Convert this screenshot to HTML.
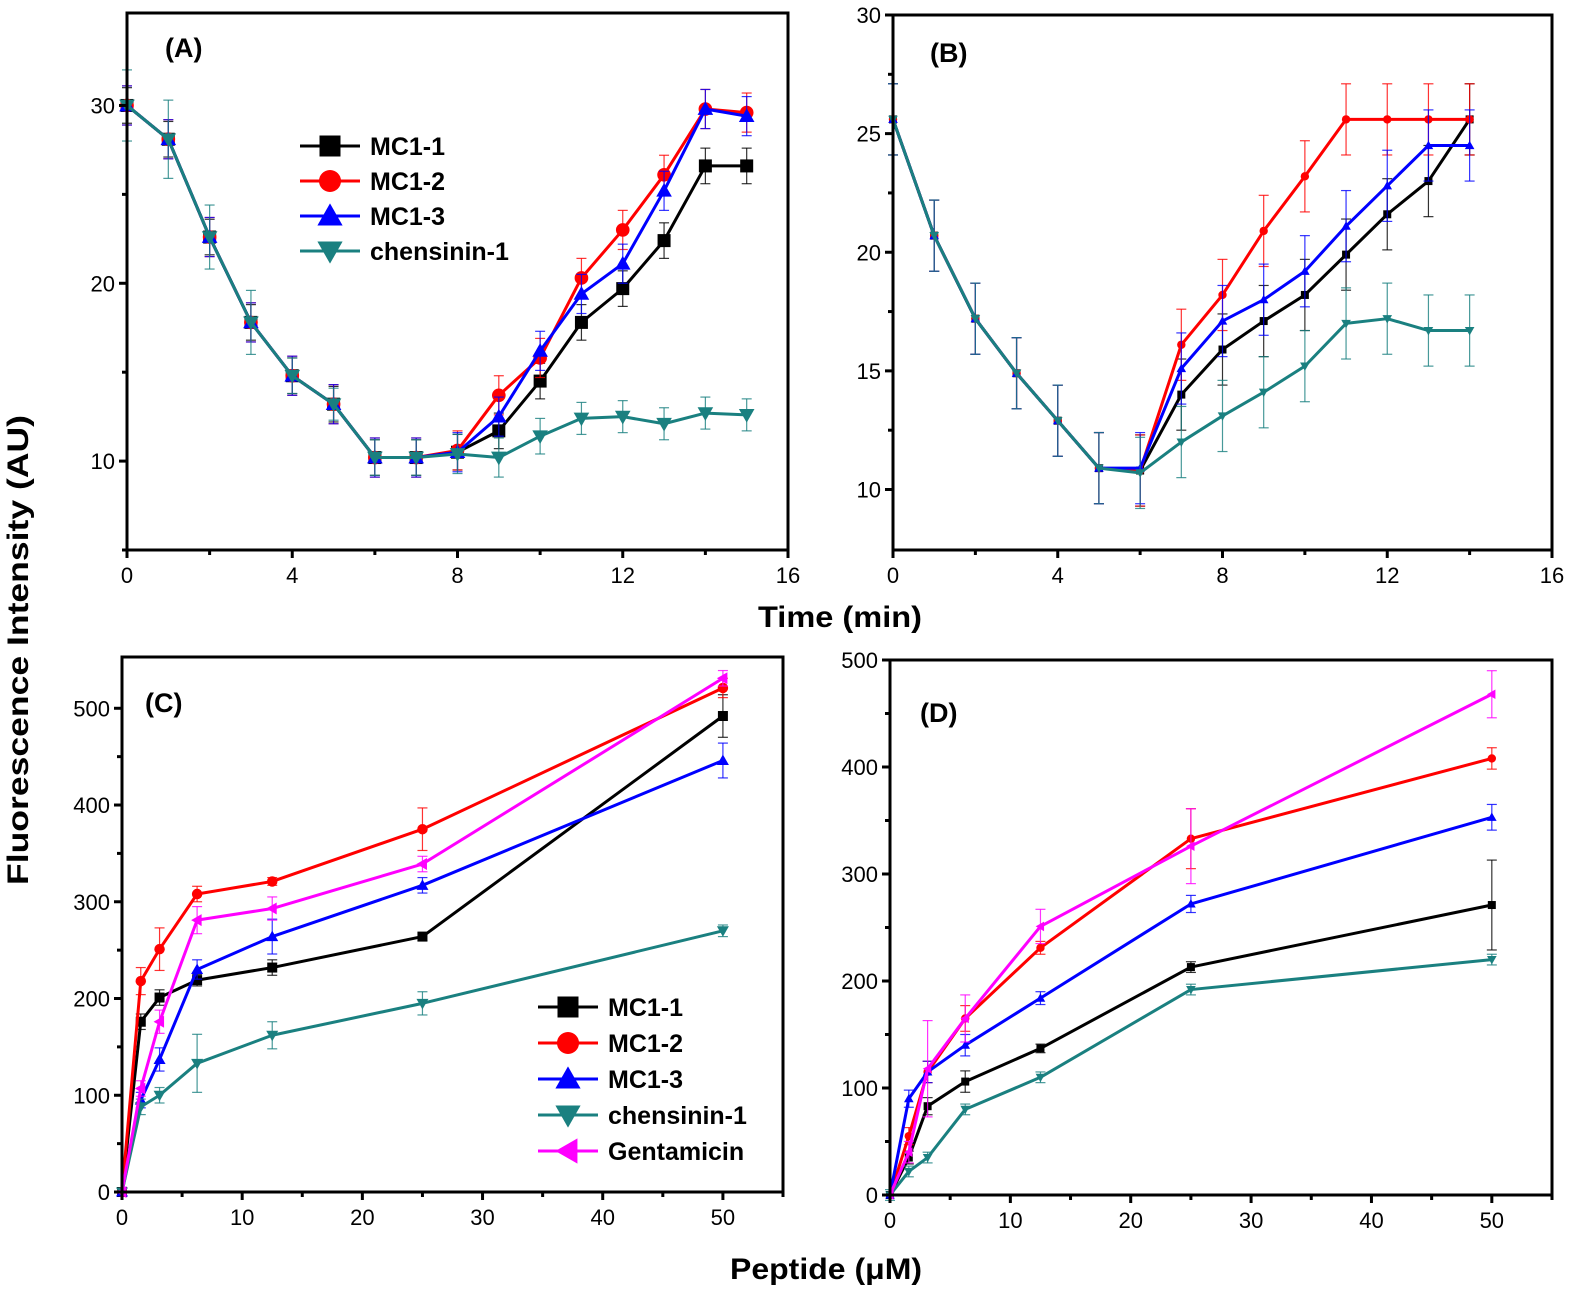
<!DOCTYPE html>
<html><head><meta charset="utf-8"><style>
body{margin:0;background:#fff}
svg{display:block}
text{font-family:"Liberation Sans",Arial,sans-serif}
</style></head><body>
<svg id="s" width="1575" height="1294" viewBox="0 0 1575 1294" xmlns="http://www.w3.org/2000/svg">
<text x="28" y="650" font-size="30" font-weight="bold" text-anchor="middle" textLength="470" lengthAdjust="spacingAndGlyphs" transform="rotate(-90 28 650)">Fluorescence Intensity (AU)</text>
<text x="840" y="627" font-size="30" font-weight="bold" text-anchor="middle" textLength="164" lengthAdjust="spacingAndGlyphs">Time (min)</text>
<text x="826" y="1279" font-size="30" font-weight="bold" text-anchor="middle" textLength="192" lengthAdjust="spacingAndGlyphs">Peptide (μM)</text>
</svg>
<script>
const S=document.getElementById('s');
function el(t,a,txt){const e=document.createElementNS('http://www.w3.org/2000/svg',t);for(const k in a)e.setAttribute(k,a[k]);if(txt!==undefined)e.textContent=txt;S.appendChild(e);return e;}
const COL={k:'#000',r:'#f00',b:'#00f',g:'#1a8080',m:'#f0f'};
function marker(type,x,y,sz,c){
  const h=sz/2;
  if(type==='sq')el('rect',{x:x-h,y:y-h,width:sz,height:sz,fill:c});
  else if(type==='ci')el('circle',{cx:x,cy:y,r:h*1.05,fill:c});
  else if(type==='up')el('polygon',{points:`${x},${y-h*1.2} ${x-h*1.2},${y+h*0.9} ${x+h*1.2},${y+h*0.9}`,fill:c});
  else if(type==='dn')el('polygon',{points:`${x},${y+h*1.2} ${x-h*1.2},${y-h*0.9} ${x+h*1.2},${y-h*0.9}`,fill:c});
  else if(type==='lf')el('polygon',{points:`${x-h*1.2},${y} ${x+h*0.9},${y-h*1.2} ${x+h*0.9},${y+h*1.2}`,fill:c});
}
function panel(p){
  const X=v=>p.x0+(v-p.xmin)/(p.xmax-p.xmin)*(p.x1-p.x0);
  const Y=v=>p.y1-(v-p.ymin)/(p.ymax-p.ymin)*(p.y1-p.y0);
  for(const s of p.series){
    const pts=s.d.map((v,i)=>[X(p.xs[i]),Y(v)]);
    s.d.forEach((v,i)=>{const e=(s.e&&s.e[i]!==undefined)?s.e[i]:s.ed; if(!e)return;
      const x=X(p.xs[i]),a=Y(v+e),b=Y(v-e);
      el('line',{x1:x,y1:a,x2:x,y2:b,stroke:s.c,'stroke-width':1.2,opacity:.8});
      el('line',{x1:x-5,y1:a,x2:x+5,y2:a,stroke:s.c,'stroke-width':1.2,opacity:.8});
      el('line',{x1:x-5,y1:b,x2:x+5,y2:b,stroke:s.c,'stroke-width':1.2,opacity:.8});});
    el('polyline',{points:pts.map(q=>q.join(',')).join(' '),fill:'none',stroke:s.c,'stroke-width':3,'stroke-linejoin':'round'});
    pts.forEach(q=>marker(s.m,q[0],q[1],p.ms,s.c));
  }
  el('rect',{x:p.x0,y:p.y0,width:p.x1-p.x0,height:p.y1-p.y0,fill:'none',stroke:'#000','stroke-width':3});
  for(const t of p.xt){const x=X(t);el('line',{x1:x,y1:p.y1,x2:x,y2:p.y1+8,stroke:'#000','stroke-width':3});el('text',{x:x,y:p.y1+33,'font-size':22,'text-anchor':'middle'},String(t));}
  for(const t of p.xm){const x=X(t);el('line',{x1:x,y1:p.y1,x2:x,y2:p.y1+5,stroke:'#000','stroke-width':3});}
  for(const t of p.yt){const y=Y(t);el('line',{x1:p.x0-8,y1:y,x2:p.x0,y2:y,stroke:'#000','stroke-width':3});el('text',{x:p.x0-12,y:y+8,'font-size':22,'text-anchor':'end'},String(t));}
  for(const t of p.ym){const y=Y(t);el('line',{x1:p.x0-5,y1:y,x2:p.x0,y2:y,stroke:'#000','stroke-width':3});}
  el('text',{x:p.lx,y:p.ly,'font-size':27,'font-weight':'bold'},p.label);
  if(p.leg){let y=p.leg.y;for(const s of p.series){el('line',{x1:p.leg.x,y1:y,x2:p.leg.x+60,y2:y,stroke:s.c,'stroke-width':3});marker(s.m,p.leg.x+30,y,21,s.c);el('text',{x:p.leg.x+70,y:y+9,'font-size':25,'font-weight':'bold'},s.n);y+=p.leg.dy;}}
}
const tA=[...Array(16).keys()];
const baseA=[30,28.1,22.6,17.8,14.8,13.2,10.2,10.2];
panel({x0:127,x1:788,y0:13,y1:550,xmin:0,xmax:16,ymin:5,ymax:35.2,xs:tA,ms:13,
 xt:[0,4,8,12,16],xm:[2,6,10,14],yt:[10,20,30],ym:[5,15,25],label:'(A)',lx:165,ly:57,
 leg:{x:300,y:146,dy:35},
 series:[
 {n:'MC1-1',c:COL.k,m:'sq',ed:1,d:baseA.concat([10.5,11.7,14.5,17.8,19.7,22.4,26.6,26.6])},
 {n:'MC1-2',c:COL.r,m:'ci',ed:1.1,d:baseA.concat([10.6,13.7,15.8,20.3,23,26.1,29.8,29.6])},
 {n:'MC1-3',c:COL.b,m:'up',ed:1.1,d:baseA.concat([10.5,12.5,16.2,19.4,21.1,25.2,29.8,29.4])},
 {n:'chensinin-1',c:COL.g,m:'dn',ed:0.9,e:[2,2.2,1.8,1.8,1,0.9,1,1,1.1,1.1,1,0.9,0.9,0.9,0.9,0.9],d:baseA.concat([10.4,10.2,11.4,12.4,12.5,12.1,12.7,12.6])}]});
const tB=[...Array(15).keys()];
const baseB=[25.6,20.7,17.2,14.9,12.9,10.9];
panel({x0:893,x1:1552,y0:15,y1:550,xmin:0,xmax:16,ymin:7.45,ymax:30,xs:tB,ms:8,
 xt:[0,4,8,12,16],xm:[2,6,10,14],yt:[10,15,20,25,30],ym:[12.5,17.5,22.5,27.5],label:'(B)',lx:930,ly:62,
 series:[
 {n:'MC1-1',c:COL.k,m:'sq',ed:1.5,d:baseB.concat([10.8,14,15.9,17.1,18.2,19.9,21.6,23,25.6])},
 {n:'MC1-2',c:COL.r,m:'ci',ed:1.5,d:baseB.concat([10.8,16.1,18.2,20.9,23.2,25.6,25.6,25.6,25.6])},
 {n:'MC1-3',c:COL.b,m:'up',ed:1.5,d:baseB.concat([10.9,15.1,17.1,18,19.2,21.1,22.8,24.5,24.5])},
 {n:'chensinin-1',c:COL.g,m:'dn',ed:1.5,d:baseB.concat([10.7,12,13.1,14.1,15.2,17,17.2,16.7,16.7])}]});
const xP=[0,1.5625,3.125,6.25,12.5,25,50];
panel({x0:122,x1:783,y0:657,y1:1192,xmin:0,xmax:55,ymin:0,ymax:553,xs:xP,ms:10,
 xt:[0,10,20,30,40,50],xm:[5,15,25,35,45,55],yt:[0,100,200,300,400,500],ym:[50,150,250,350,450],label:'(C)',lx:145,ly:712,
 leg:{x:538,y:1007,dy:36},
 series:[
 {n:'MC1-1',c:COL.k,m:'sq',ed:8,e:[0,8,8,6,8,4,22],d:[0,176,201,219,232,264,492]},
 {n:'MC1-2',c:COL.r,m:'ci',ed:12,e:[0,14,22,8,4,22,10],d:[0,218,251,308,321,375,521]},
 {n:'MC1-3',c:COL.b,m:'up',ed:8,e:[0,8,12,10,18,8,18],d:[0,95,137,230,264,317,446]},
 {n:'chensinin-1',c:COL.g,m:'dn',ed:10,e:[0,8,8,30,14,12,6],d:[0,88,100,133,162,195,270]},
 {n:'Gentamicin',c:COL.m,m:'lf',ed:8,e:[0,8,12,14,12,8,8],d:[0,107,176,281,293,339,531]}]});
panel({x0:890,x1:1552,y0:660,y1:1195,xmin:0,xmax:55,ymin:0,ymax:500,xs:xP,ms:8,
 xt:[0,10,20,30,40,50],xm:[5,15,25,35,45,55],yt:[0,100,200,300,400,500],ym:[50,150,250,350,450],label:'(D)',lx:920,ly:722,
 series:[
 {n:'MC1-1',c:COL.k,m:'sq',ed:6,e:[0,6,8,10,4,5,42],d:[0,35,83,106,137,213,271]},
 {n:'MC1-2',c:COL.r,m:'ci',ed:8,e:[0,8,10,12,6,28,10],d:[0,55,115,165,231,333,408]},
 {n:'MC1-3',c:COL.b,m:'up',ed:8,e:[0,8,10,10,6,8,12],d:[0,90,115,140,184,272,353]},
 {n:'chensinin-1',c:COL.g,m:'dn',ed:5,d:[0,22,35,80,110,192,220]},
 {n:'Gentamicin',c:COL.m,m:'lf',ed:10,e:[0,10,45,22,16,35,22],d:[0,40,118,165,251,326,468]}]});
</script>
</body></html>
